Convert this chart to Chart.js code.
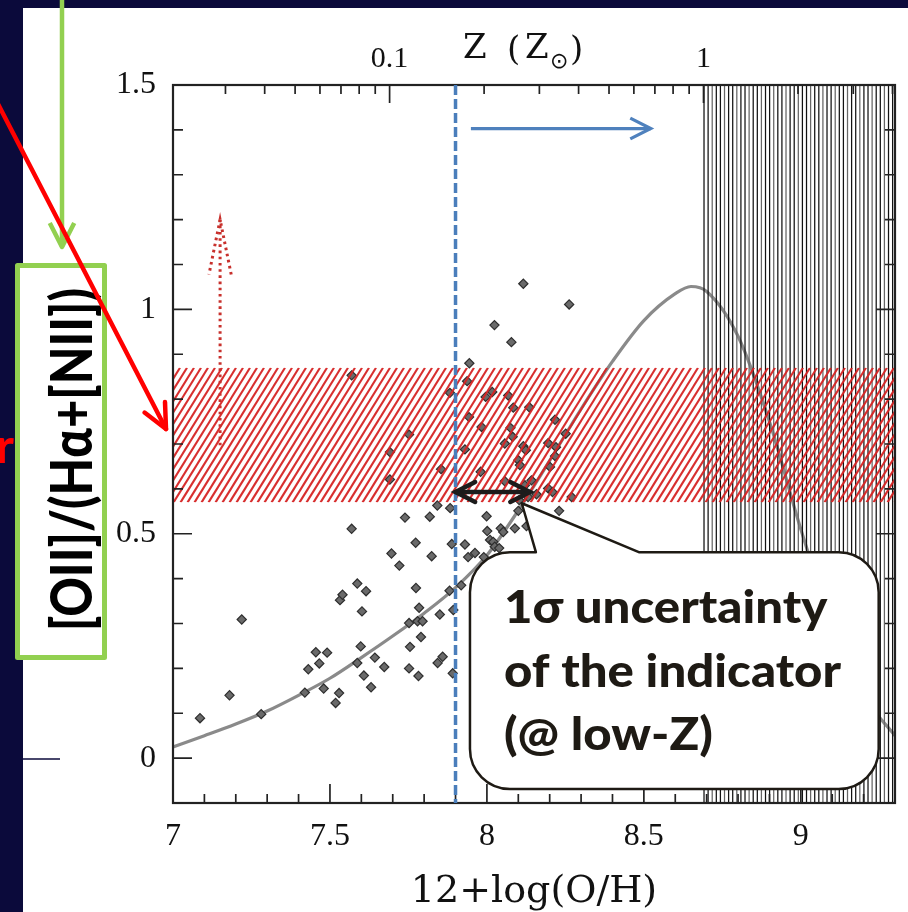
<!DOCTYPE html>
<html><head><meta charset="utf-8">
<script src="https://cdn.jsdelivr.net/npm/chart.js@4.4.0/dist/chart.umd.min.js"></script>
<style>html,body{margin:0;padding:0;background:#0b0a3b;overflow:hidden}#wrap{width:908px;height:912px;position:relative}canvas{display:block}</style>
</head><body><div id="wrap"><canvas id="c" width="908" height="912"></canvas></div>
<script>
// ---- data ----
const oxygenAbundance = [
  7.086,7.18,7.219,7.281,7.42,7.431,7.455,7.466,7.491,7.48,7.529,7.518,7.532,7.54,
  7.752,7.691,7.854,7.691,7.842,7.883,7.739,7.818,7.569,7.773,7.888,7.696,7.824,
  7.569,
  7.721,7.587,7.615,7.774,7.881,7.602,7.784,7.850,7.893,7.752,7.779,7.795,7.790,7.598,7.755,7.643,7.859,7.843,7.587,7.673,7.752,7.891,7.608,7.782,7.631,
  8.116,8.262,8.024,8.078,7.944,7.937,7.882,7.996,8.017,8.068,8.084,8.135,7.943,8.217,
  7.983,8.075,8.082,8.251,8.057,8.116,8.124,8.195,8.220,7.930,8.217,8.100,8.105,7.980,8.201,8.057,8.142,8.121,8.195,8.209,8.158,8.270,8.103,8.131,8.100,8.230,7.999,8.126,8.089,8.044,8.052,8.001,8.010,8.020,7.930,8.025,8.039,7.962,7.990,7.940,
  7.918
];
const lineRatio = [
  0.089,0.140,0.309,0.098,0.146,0.198,0.236,0.211,0.235,0.155,0.145,0.123,0.352,0.364,
  0.721,0.682,0.644,0.621,0.563,0.557,0.536,0.538,0.511,0.480,0.477,0.456,0.450,
  0.853,
  0.429,0.389,0.372,0.379,0.373,0.327,0.335,0.320,0.330,0.301,0.305,0.305,0.270,0.249,0.248,0.224,0.226,0.212,0.212,0.203,0.200,0.189,0.184,0.183,0.158,
  1.057,1.011,0.965,0.927,0.880,0.840,0.814,0.805,0.816,0.808,0.781,0.782,0.760,0.754,
  0.738,0.736,0.716,0.723,0.701,0.695,0.686,0.702,0.693,0.688,0.673,0.664,0.653,0.638,0.649,0.617,0.619,0.608,0.601,0.593,0.588,0.582,0.575,0.582,0.551,0.551,0.539,0.517,0.512,0.512,0.504,0.506,0.486,0.482,0.476,0.471,0.468,0.457,0.448,0.448,
  0.385
];
const curveOH    = [7.0,7.1,7.2,7.3,7.4,7.5,7.6,7.7,7.8,7.9,8.0,8.1,8.2,8.3,8.4,8.5,8.6,8.65,8.7,8.8,8.9,9.0,9.1,9.2,9.3];
const curveRatio = [0.025,0.05,0.076,0.105,0.14,0.178,0.224,0.272,0.323,0.38,0.452,0.552,0.663,0.778,0.884,0.975,1.035,1.051,1.04,0.94,0.75,0.51,0.3,0.14,0.05];
const xTickValues = [7, 7.5, 8, 8.5, 9];
const yTickValues = [0, 0.5, 1, 1.5];
const solarOH = 8.69;
const topTickZ = [0.1, 1];
const topTickLabels = ['0.1', '1'];
const lowZLimit = 7.9;
const bandLow = 0.57, bandHigh = 0.87;
const sigmaArrow = [7.9, 8.137, 0.593];      // x from, x to, y
const lowerLimitArrow = [7.15, 0.697, 1.2];  // x, y from, y to
const blueArrow = [7.949, 8.522, 1.403];     // x from, x to, y

const NAVY = '#0b0a3b';
const SERIF = "'Liberation Serif', 'DejaVu Serif', serif";
const SERIF2 = "'DejaVu Serif', serif";
const BOLD = "Lato, 'Open Sans', sans-serif";

function arrowHead(ctx, fx, fy, tx, ty, len, ang) {
  const a = Math.atan2(ty - fy, tx - fx);
  ctx.beginPath();
  ctx.moveTo(tx - len * Math.cos(a - ang), ty - len * Math.sin(a - ang));
  ctx.lineTo(tx, ty);
  ctx.lineTo(tx - len * Math.cos(a + ang), ty - len * Math.sin(a + ang));
  ctx.stroke();
}

const bgPlugin = {
  id: 'bg',
  beforeDraw(chart) {
    const ctx = chart.ctx;
    ctx.save();
    ctx.fillStyle = NAVY; ctx.fillRect(0, 0, chart.width, chart.height);
    ctx.fillStyle = '#fff'; ctx.fillRect(23, 8, chart.width - 23, chart.height - 8);
    ctx.restore();
  }
};

const overlayPlugin = {
  id: 'overlay',
  afterDraw(chart) {
    const ctx = chart.ctx, ca = chart.chartArea;
    const xs = chart.scales.x, ys = chart.scales.y;
    const X = v => xs.getPixelForValue(v), Y = v => ys.getPixelForValue(v);
    ctx.save();

    // high-Z vertically hatched region
    ctx.save();
    ctx.beginPath(); ctx.rect(ca.left, ca.top, ca.right - ca.left, ca.bottom - ca.top); ctx.clip();
    const hx0 = X(solarOH);
    let k = 0;
    for (let x = hx0 + 0.5; x <= ca.right; x += 4.1, k++) {
      ctx.strokeStyle = (k % 3 === 2) ? '#666' : '#111';
      ctx.lineWidth = 1.25;
      ctx.beginPath(); ctx.moveTo(x, ca.top); ctx.lineTo(x, ca.bottom); ctx.stroke();
    }
    ctx.restore();

    // red hatched band
    const yT = Y(bandHigh), yB = Y(bandLow);
    ctx.save();
    ctx.beginPath(); ctx.rect(ca.left, yT, ca.right - ca.left, yB - yT); ctx.clip();
    const lean = (yB - yT) * 0.62;
    ctx.strokeStyle = 'rgba(214,36,36,0.95)'; ctx.lineWidth = 2.1;
    for (let x0 = ca.left - lean; x0 < ca.right + 10; x0 += 7) {
      ctx.beginPath(); ctx.moveTo(x0, yB); ctx.lineTo(x0 + lean, yT); ctx.stroke();
    }
    ctx.restore();

    // frame
    ctx.strokeStyle = '#222'; ctx.lineWidth = 2.2;
    ctx.strokeRect(ca.left, ca.top, ca.right - ca.left, ca.bottom - ca.top);

    // inward ticks
    ctx.lineWidth = 1.7; ctx.strokeStyle = '#222';
    for (let i = 0; i <= 16; i++) {
      const v = -0.1 + i * 0.1; const py = Y(v);
      const major = Math.abs(Math.round(v * 10) % 5) === 0;
      const L = major ? 19 : 10;
      ctx.beginPath(); ctx.moveTo(ca.left, py); ctx.lineTo(ca.left + L, py);
      ctx.moveTo(ca.right, py); ctx.lineTo(ca.right - L, py); ctx.stroke();
    }
    for (let i = 0; i <= 23; i++) {
      const v = 7 + i * 0.1; const px = X(v);
      const major = Math.round(v * 10) % 5 === 0;
      const L = major ? 19 : 9;
      ctx.beginPath(); ctx.moveTo(px, ca.bottom); ctx.lineTo(px, ca.bottom - L); ctx.stroke();
    }
    [0.01, 0.1, 1].forEach(dec => {
      for (let m = 1; m <= 9; m++) {
        const v = solarOH + Math.log10(dec * m);
        if (v < 7 || v > 9.3) continue;
        const px = X(v);
        const L = (m === 1) ? 18 : 9;
        ctx.beginPath(); ctx.moveTo(px, ca.top); ctx.lineTo(px, ca.top + L); ctx.stroke();
      }
    });

    // blue dashed line (low-Z limit)
    ctx.strokeStyle = '#4a7ebb'; ctx.lineWidth = 3.5; ctx.setLineDash([10, 4]);
    ctx.beginPath(); ctx.moveTo(X(lowZLimit), ca.top); ctx.lineTo(X(lowZLimit), ca.bottom); ctx.stroke();
    ctx.setLineDash([]);

    // blue arrow
    ctx.strokeStyle = '#4f81bd'; ctx.lineWidth = 3.2;
    const bx0 = X(blueArrow[0]), bx1 = X(blueArrow[1]), by = Y(blueArrow[2]);
    ctx.beginPath(); ctx.moveTo(bx0, by); ctx.lineTo(bx1, by); ctx.stroke();
    arrowHead(ctx, bx0, by, bx1, by, 23, 0.47);

    // red dotted lower-limit arrow
    ctx.strokeStyle = '#c8302c'; ctx.lineWidth = 3; ctx.setLineDash([2.6, 3.6]);
    const rx = X(lowerLimitArrow[0]), ry0 = Y(lowerLimitArrow[1]), ry1 = Y(lowerLimitArrow[2]);
    ctx.beginPath(); ctx.moveTo(rx, ry0); ctx.lineTo(rx, ry1); ctx.stroke();
    arrowHead(ctx, rx, ry0, rx, ry1, 56, 0.2);
    ctx.setLineDash([]);

    // 1-sigma double arrow
    ctx.strokeStyle = '#1c1c1c'; ctx.lineWidth = 4.5; ctx.lineCap = 'round';
    const sx0 = X(sigmaArrow[0]), sx1 = X(sigmaArrow[1]), sy = Y(sigmaArrow[2]);
    ctx.beginPath(); ctx.moveTo(sx0, sy); ctx.lineTo(sx1, sy); ctx.stroke();
    arrowHead(ctx, sx1, sy, sx0, sy, 22, 0.47);
    arrowHead(ctx, sx0, sy, sx1, sy, 22, 0.47);
    ctx.lineCap = 'butt';

    // callout box
    const L = X(7.946), R = X(9.248), T = Y(0.459), B = Y(-0.069), rr = 40;
    const tipX = X(8.111), tipY = Y(0.568), b1 = X(8.156), b2 = X(8.484);
    ctx.beginPath();
    ctx.moveTo(L + rr, T); ctx.lineTo(b1, T); ctx.lineTo(tipX, tipY); ctx.lineTo(b2, T);
    ctx.lineTo(R - rr, T); ctx.arcTo(R, T, R, T + rr, rr);
    ctx.lineTo(R, B - rr); ctx.arcTo(R, B, R - rr, B, rr);
    ctx.lineTo(L + rr, B); ctx.arcTo(L, B, L, B - rr, rr);
    ctx.lineTo(L, T + rr); ctx.arcTo(L, T, L + rr, T, rr); ctx.closePath();
    ctx.fillStyle = '#fff'; ctx.fill();
    ctx.strokeStyle = '#1e1a14'; ctx.lineWidth = 2.5; ctx.lineJoin = 'round'; ctx.stroke();
    ctx.fillStyle = '#1e1a14';
    ctx.font = "900 46px " + BOLD; ctx.textBaseline = 'alphabetic'; ctx.textAlign = 'left';
    const lines = ['1σ uncertainty', 'of the indicator', '(@ low-Z)'];
    const sxf = 337 / ctx.measureText(lines[1]).width;
    lines.forEach((t, i) => {
      ctx.save(); ctx.translate(L + 34, T + 71 + i * 63.5); ctx.scale(sxf, 1);
      ctx.fillText(t, 0, 0); ctx.restore();
    });

    // top axis title Z (Z_sun)
    ctx.fillStyle = '#111'; ctx.textBaseline = 'alphabetic';
    ctx.font = "34px " + SERIF2;
    ctx.fillText('Z', 463, 58);
    ctx.fillText('(', 507, 60);
    ctx.fillText('Z', 525, 58);
    ctx.fillText(')', 570, 60);
    ctx.font = "22px 'DejaVu Sans', sans-serif"; ctx.textBaseline = 'middle';
    ctx.fillText('⊙', 550, 62);

    // green arrow and boxed y label
    ctx.strokeStyle = '#92d050'; ctx.lineWidth = 4.5;
    ctx.beginPath(); ctx.moveTo(62, 0); ctx.lineTo(62, 247); ctx.stroke();
    arrowHead(ctx, 62, 0, 62, 247, 27, 0.47);
    ctx.fillStyle = '#fff'; ctx.fillRect(19, 267, 86, 389);
    ctx.lineWidth = 5; ctx.strokeRect(17.5, 265.5, 87, 392);
    ctx.save();
    ctx.translate(92, 631); ctx.rotate(-Math.PI / 2);
    ctx.font = "900 58px " + BOLD; ctx.textBaseline = 'alphabetic'; ctx.textAlign = 'left';
    const lab = '[OII]/(Hα+[NII])';
    ctx.scale(343 / ctx.measureText(lab).width, 1);
    ctx.fillStyle = '#000'; ctx.fillText(lab, 0, 0);
    ctx.restore();

    // red arrow from the left
    ctx.strokeStyle = '#ff0000'; ctx.lineWidth = 4.5; ctx.lineCap = 'round';
    ctx.beginPath(); ctx.moveTo(-2, 104); ctx.lineTo(166, 429); ctx.stroke();
    arrowHead(ctx, -2, 104, 166, 429, 27, 0.44);
    ctx.lineCap = 'butt';
    ctx.fillStyle = '#ff0000'; ctx.font = "bold 48px " + BOLD; ctx.textAlign = 'right'; ctx.textBaseline = 'alphabetic';
    ctx.fillText('r', 14, 463);

    // small dark rule near zero label
    ctx.strokeStyle = NAVY; ctx.lineWidth = 1.5;
    ctx.beginPath(); ctx.moveTo(23, 759); ctx.lineTo(60, 759); ctx.stroke();

    ctx.restore();
  }
};

const tickFont = { family: SERIF, size: 32 };
new Chart(document.getElementById('c'), {
  data: {
    datasets: [
      {
        type: 'scatter', label: 'galaxies', order: 0,
        data: oxygenAbundance.map((v, i) => ({ x: v, y: lineRatio[i] })),
        pointStyle: 'rectRot', pointRadius: 4.6, backgroundColor: '#6a6a6a', borderColor: '#2e2e2e', borderWidth: 1.2,
        xAxisID: 'x', yAxisID: 'y'
      },
      {
        type: 'line', label: 'calibration', order: 1,
        data: curveOH.map((v, i) => ({ x: v, y: curveRatio[i] })),
        borderColor: '#8a8a8a', borderWidth: 3.2, pointRadius: 0, cubicInterpolationMode: 'monotone', fill: false,
        xAxisID: 'x', yAxisID: 'y'
      }
    ]
  },
  options: {
    responsive: false, animation: false, devicePixelRatio: 1,
    layout: { padding: { left: 0, right: 13, top: 0, bottom: 0 } },
    plugins: { legend: { display: false }, tooltip: { enabled: false } },
    scales: {
      x: {
        type: 'linear', position: 'bottom', min: 7, max: 9.3,
        afterBuildTicks: s => { s.ticks = xTickValues.map(v => ({ value: v })); },
        afterFit: s => { s.height = 109; },
        grid: { display: false, drawTicks: false }, border: { display: false },
        ticks: { font: tickFont, color: '#111', padding: 14, maxRotation: 0, autoSkip: false, callback: v => String(v) },
        title: { display: true, text: '12+log(O/H)', font: { family: SERIF2, size: 38, lineHeight: 1.0 }, color: '#111', padding: { top: 0, bottom: 1 } }
      },
      xTop: {
        type: 'linear', position: 'top', min: 7, max: 9.3,
        afterBuildTicks: s => { s.ticks = topTickZ.map(z => ({ value: solarOH + Math.log10(z) })); },
        afterFit: s => { s.height = 85; },
        grid: { display: false, drawTicks: false }, border: { display: false },
        ticks: { font: { family: SERIF, size: 30 }, color: '#111', padding: 8, maxRotation: 0, autoSkip: false, callback: (v, i) => topTickLabels[i] }
      },
      y: {
        type: 'linear', position: 'left', min: -0.1, max: 1.5,
        afterBuildTicks: s => { s.ticks = yTickValues.map(v => ({ value: v })); },
        afterFit: s => { s.width = 173; },
        grid: { display: false, drawTicks: false }, border: { display: false },
        ticks: { font: tickFont, color: '#111', padding: 17, autoSkip: false, callback: v => String(v) }
      }
    }
  },
  plugins: [bgPlugin, overlayPlugin]
});
</script></body></html>
